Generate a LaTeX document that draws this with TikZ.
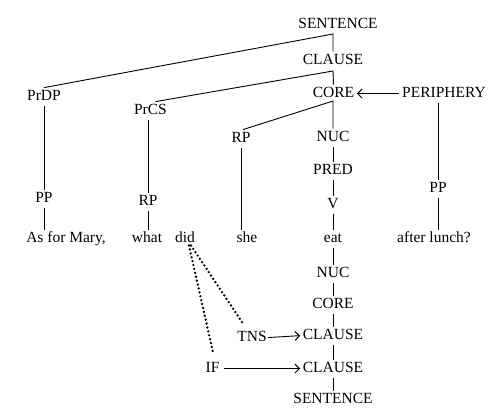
\documentclass[tikz,border=0pt]{standalone}
\usepackage{fontspec}
\setmainfont{Liberation Serif}
\usetikzlibrary{calc,arrows.meta}
\begin{document}
\begin{tikzpicture}[x=1pt,y=-1pt,
  lbl/.style={anchor=base,inner xsep=1pt,inner ysep=1.5pt,text height=11pt,text depth=3.5pt,font=\fontsize{15.5}{18}\selectfont},
  edge/.style={line width=0.9pt},
  arr/.style={line width=0.9pt,shorten >=1.5pt,-{Straight Barb[length=4.5pt,width=9pt,line width=1pt]}},
  dots/.style={line width=2.6pt,line cap=round,dash pattern=on 0pt off 4pt}]
\useasboundingbox (0,0) rectangle (500,415);
% spine nodes (baseline = cap centre + 5.3)
\node[lbl] (S1) at (338,28.3) {SENTENCE};
\node[lbl] (C1) at (333,64.3) {CLAUSE};
\node[lbl] (CO1) at (333.5,97.3) {CORE};
\node[lbl] (N1) at (333,141.3) {NUC};
\node[lbl] (PRED) at (333,174.3) {PRED};
\node[lbl] (V) at (333,208.3) {V};
\node[lbl] (eat) at (333,242.3) {eat};
\node[lbl] (N2) at (333,277.3) {NUC};
\node[lbl] (CO2) at (333,308.3) {CORE};
\node[lbl] (C2) at (333,339.3) {CLAUSE};
\node[lbl] (C3) at (333,372.3) {CLAUSE};
\node[lbl] (S2) at (333,403.3) {SENTENCE};
% left side
\node[lbl] (PrDP) at (44,100.3) {PrDP};
\node[lbl] (PP1) at (44,202.3) {PP};
\node[lbl] (mary) at (66,242.3) {As for Mary,};
\node[lbl] (PrCS) at (150.5,114.3) {PrCS};
\node[lbl] (RP1) at (148,205.3) {RP};
\node[lbl] (what) at (147,242.3) {what};
\node[lbl] (did) at (185,242.3) {did};
\node[lbl] (RP2) at (241,142.3) {RP};
\node[lbl] (she) at (247,242.3) {she};
% right side
\node[lbl] (PERI) at (444,97.3) {PERIPHERY};
\node[lbl] (PP2) at (438,192.3) {PP};
\node[lbl] (lunch) at (434,242.3) {after lunch?};
% operators
\node[lbl] (TNS) at (252,341.3) {TNS};
\node[lbl] (IF) at (212.5,372.3) {IF};
% junction points on the spine
\coordinate (j1) at (333,34);
\coordinate (j2) at (333,71);
\coordinate (j3) at (333,101);
% upper tree
\draw[edge] (PrDP.north) -- (j1) -- (C1.north);
\draw[edge] ([xshift=5pt]PrCS.north) -- (j2) -- (CO1.north);
\draw[edge] ([xshift=2pt]RP2.north) -- (j3) -- (N1.north);
\draw[edge] (N1.south) -- (PRED.north);
\draw[edge] (PRED.south) -- (V.north);
\draw[edge] (V.south) -- (eat.north);
\draw[edge] (PrDP.south) -- (PP1.north);
\draw[edge] (PP1.south) -- (PP1.south |- mary.north);
\draw[edge] (PrCS.south -| RP1.north) -- (RP1.north);
\draw[edge] (RP1.south) -- (RP1.south |- what.north);
\draw[edge] (RP2.south) -- (RP2.south |- she.north);
\draw[arr] ([xshift=-2pt]PERI.west) -- (CO1.east);
\draw[edge] (PERI.south -| PP2.north) -- (PP2.north);
\draw[edge] (PP2.south) -- (PP2.south |- lunch.north);
% lower tree
\draw[edge] (eat.south) -- (N2.north);
\draw[edge] (N2.south) -- (CO2.north);
\draw[edge] (CO2.south) -- (C2.north);
\draw[edge] (C2.south) -- (C3.north);
\draw[edge] (C3.south) -- (S2.north);
\draw[arr] (TNS.east) -- (C2.west);
\draw[arr] ([xshift=3pt]IF.east) -- (C3.west);
\draw[dots] ([xshift=6pt,yshift=2pt]did.south) -- ([xshift=-9pt,yshift=5pt]TNS.north);
\draw[dots] ([xshift=4pt,yshift=2pt]did.south) -- ([xshift=1pt,yshift=5pt]IF.north);
\end{tikzpicture}
\end{document}
